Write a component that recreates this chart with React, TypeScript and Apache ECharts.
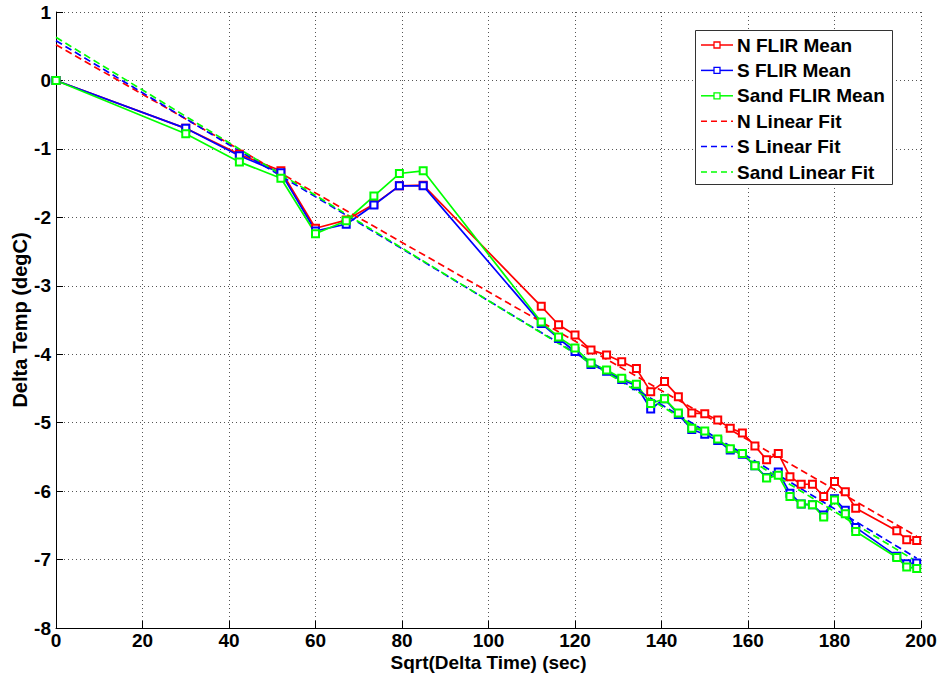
import { useEffect, useRef } from "react";
import * as echarts from "echarts";

// Sqrt(Delta Time) positions of the samples (sec)
const sqrtTime = [0, 30, 42.4, 52.0, 60.0, 67.1, 73.5, 79.4, 84.9, 112.2, 116.2, 120.0, 123.7, 127.3, 130.8, 134.2, 137.5, 140.7, 143.9, 147.0, 150.0, 153.0, 155.9, 158.7, 161.6, 164.3, 167.0, 169.7, 172.3, 174.9, 177.5, 180.0, 182.5, 184.9, 194.4, 196.7, 199.0];

const nFlirMean = [0, -0.70, -1.08, -1.32, -2.16, -2.04, -1.81, -1.54, -1.53, -3.30, -3.57, -3.72, -3.94, -4.01, -4.11, -4.21, -4.55, -4.40, -4.62, -4.86, -4.87, -4.96, -5.08, -5.15, -5.34, -5.54, -5.45, -5.79, -5.90, -5.90, -6.08, -5.86, -6.01, -6.25, -6.58, -6.71, -6.72];
const sFlirMean = [0, -0.70, -1.10, -1.35, -2.20, -2.10, -1.82, -1.54, -1.54, -3.55, -3.77, -3.96, -4.15, -4.25, -4.37, -4.46, -4.80, -4.65, -4.88, -5.10, -5.17, -5.26, -5.40, -5.46, -5.63, -5.80, -5.72, -6.03, -6.19, -6.20, -6.35, -6.11, -6.28, -6.53, -6.95, -7.06, -7.05];
const sandFlirMean = [0, -0.78, -1.19, -1.43, -2.24, -2.05, -1.69, -1.36, -1.32, -3.53, -3.75, -3.91, -4.13, -4.23, -4.35, -4.44, -4.72, -4.65, -4.86, -5.08, -5.12, -5.24, -5.38, -5.45, -5.63, -5.81, -5.77, -6.08, -6.19, -6.20, -6.38, -6.13, -6.33, -6.59, -6.97, -7.11, -7.13];

// Linear fit end points
const fitX = [0, 199];
const nLinearFit = [0.52, -6.66];
const sLinearFit = [0.58, -6.98];
const sandLinearFit = [0.63, -7.03];

const seriesNames = ["N FLIR Mean", "S FLIR Mean", "Sand FLIR Mean", "N Linear Fit", "S Linear Fit", "Sand Linear Fit"];
const seriesColors = ["#ff0000", "#0000ff", "#00ff00", "#ff0000", "#0000ff", "#00ff00"];

const FONT = "'Liberation Sans', Arial, sans-serif";

export default function App() {
  const ref = useRef<HTMLDivElement>(null);
  useEffect(() => {
    const chart = echarts.init(ref.current!, null, { renderer: "svg" });
    const pair = (xs: number[], ys: number[]) => xs.map((x, i) => [x, ys[i]]);
    const meanSeries = (idx: number, ys: number[]) => ({
      name: seriesNames[idx],
      type: "line",
      data: pair(sqrtTime, ys),
      symbol: "emptyRect",
      symbolSize: 7,
      showAllSymbol: true,
      lineStyle: { color: seriesColors[idx], width: 1.7 },
      itemStyle: { color: seriesColors[idx], borderColor: seriesColors[idx], borderWidth: 1.4 },
      emphasis: { disabled: true },
    });
    const fitSeries = (idx: number, ys: number[]) => ({
      name: seriesNames[idx],
      type: "line",
      data: pair(fitX, ys),
      symbol: "none",
      lineStyle: { color: seriesColors[idx], width: 1.7, type: [7, 4] },
      itemStyle: { color: seriesColors[idx] },
      emphasis: { disabled: true },
    });
    const splitLine = { show: true, lineStyle: { color: "#555", width: 1, type: [1, 3] } };
    const tickStyle = { color: "#000", fontFamily: FONT, fontWeight: "bold", fontSize: 19 };
    const nameStyle = { color: "#000", fontFamily: FONT, fontWeight: "bold", fontSize: 20 };

    // custom legend (Matlab style)
    const lgLeft = 695;
    const lgTop = 30;
    const rowH = 25.4;
    const legendEls: any[] = [
      {
        type: "rect",
        z: 100,
        shape: { x: lgLeft + 0.5, y: lgTop + 0.5, width: 197, height: 154 },
        style: { fill: "#fff", stroke: "#333", lineWidth: 1 },
      },
    ];
    seriesNames.forEach((name, i) => {
      const cy = lgTop + 15 + i * rowH;
      const dashed = i >= 3;
      legendEls.push({
        type: "line",
        z: 101,
        shape: { x1: lgLeft + 6, y1: cy, x2: lgLeft + 38, y2: cy },
        style: { stroke: seriesColors[i], lineWidth: 1.5, lineDash: dashed ? [6, 4] : null },
      });
      if (!dashed) {
        legendEls.push({
          type: "rect",
          z: 102,
          shape: { x: lgLeft + 19, y: cy - 3, width: 6, height: 6 },
          style: { fill: "#fff", stroke: seriesColors[i], lineWidth: 1.3 },
        });
      }
      legendEls.push({
        type: "text",
        z: 102,
        x: lgLeft + 42,
        y: cy,
        style: {
          text: name,
          fill: "#000",
          fontFamily: FONT,
          fontWeight: "bold",
          fontSize: 19,
          verticalAlign: "middle",
          align: "left",
        },
      });
    });

    chart.setOption({
      animation: false,
      backgroundColor: "#fff",
      grid: { left: 56, right: 22, top: 12, bottom: 51, containLabel: false, outerBoundsMode: "none" },
      xAxis: {
        type: "value",
        min: 0,
        max: 200,
        interval: 20,
        name: "Sqrt(Delta Time) (sec)",
        nameLocation: "middle",
        nameGap: 25,
        nameMoveOverlap: false,
        nameTextStyle: { ...nameStyle, fontSize: 19 },
        axisLine: { show: true, onZero: false, lineStyle: { color: "#000", width: 1 } },
        axisTick: { show: true, inside: true, length: 7, lineStyle: { color: "#000" } },
        axisLabel: { ...tickStyle, margin: 3 },
        splitLine,
      },
      yAxis: {
        type: "value",
        min: -8,
        max: 1,
        interval: 1,
        name: "Delta Temp (degC)",
        nameLocation: "middle",
        nameGap: 26,
        nameMoveOverlap: false,
        nameTextStyle: nameStyle,
        axisLine: { show: true, onZero: false, lineStyle: { color: "#000", width: 1 } },
        axisTick: { show: true, inside: true, length: 7, lineStyle: { color: "#000" } },
        axisLabel: { ...tickStyle, margin: 5 },
        splitLine,
      },
      graphic: legendEls,
      series: [
        meanSeries(0, nFlirMean),
        meanSeries(1, sFlirMean),
        meanSeries(2, sandFlirMean),
        fitSeries(3, nLinearFit),
        fitSeries(4, sLinearFit),
        fitSeries(5, sandLinearFit),
      ],
    });
    return () => chart.dispose();
  }, []);
  return (
    <div
      ref={ref}
      style={{ position: "fixed", left: 0, top: 0, width: 943, height: 679, background: "#fff" }}
    />
  );
}
